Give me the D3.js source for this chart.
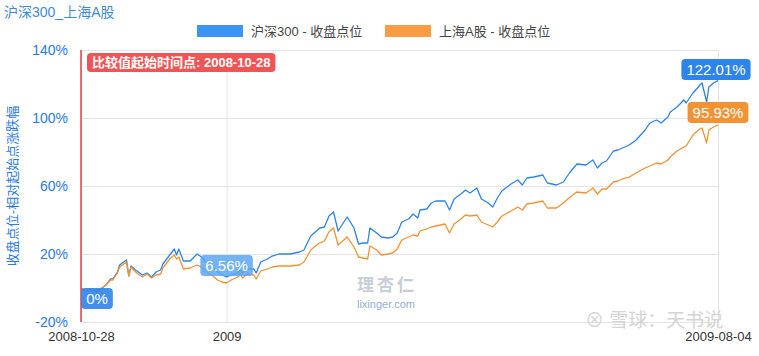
<!DOCTYPE html>
<html><head><meta charset="utf-8">
<script src="https://cdn.jsdelivr.net/npm/d3@7/dist/d3.min.js"></script>
<style>
body{margin:0;background:#fff;}
text{font-family:"Liberation Sans","Noto Sans CJK SC",sans-serif;}
</style></head>
<body><svg id="c" width="759" height="356"></svg>
<script>
const title = "沪深300_上海A股";
const seriesNames = ["沪深300 - 收盘点位", "上海A股 - 收盘点位"];
const yTicks = [-20, 20, 60, 100, 140];
const xTickDates = ["2008-10-28", "2008-12-31", "2009-08-04"];
const xTickLabels = ["2008-10-28", "2009", "2009-08-04"];
const startLabel = "比较值起始时间点: 2008-10-28";
const yTitle = "收盘点位-相对起始点涨跌幅";

const dates = [
"2008-10-28","2008-10-30","2008-11-01","2008-11-03","2008-11-05","2008-11-08","2008-11-10","2008-11-11","2008-11-13","2008-11-14",
"2008-11-17","2008-11-18","2008-11-19","2008-11-21","2008-11-24","2008-11-26","2008-11-28","2008-11-30","2008-12-02","2008-12-03",
"2008-12-06","2008-12-08","2008-12-09","2008-12-10","2008-12-12","2008-12-15","2008-12-18","2008-12-20","2008-12-22","2008-12-25",
"2008-12-27","2008-12-29","2008-12-31","2009-01-02","2009-01-05","2009-01-06","2009-01-07","2009-01-09","2009-01-12","2009-01-13",
"2009-01-15","2009-01-18","2009-01-20","2009-01-23","2009-01-28","2009-02-01","2009-02-03","2009-02-06","2009-02-08","2009-02-10",
"2009-02-12","2009-02-14","2009-02-16","2009-02-18","2009-02-20","2009-02-22","2009-02-25","2009-02-27","2009-03-01","2009-03-03",
"2009-03-04","2009-03-07","2009-03-09","2009-03-12","2009-03-14","2009-03-16","2009-03-18","2009-03-21","2009-03-23","2009-03-25",
"2009-03-26","2009-03-29","2009-03-31","2009-04-02","2009-04-06","2009-04-08","2009-04-10","2009-04-13","2009-04-15","2009-04-17",
"2009-04-20","2009-04-22","2009-04-25","2009-04-27","2009-04-29","2009-05-01","2009-05-05","2009-05-08","2009-05-10","2009-05-12",
"2009-05-15","2009-05-19","2009-05-21","2009-05-25","2009-05-28","2009-05-31","2009-06-03","2009-06-07","2009-06-10","2009-06-12",
"2009-06-14","2009-06-16","2009-06-19","2009-06-21","2009-06-23","2009-06-26","2009-06-29","2009-07-03","2009-07-05","2009-07-08",
"2009-07-10","2009-07-13","2009-07-14","2009-07-17","2009-07-20","2009-07-21","2009-07-24","2009-07-26","2009-07-27","2009-07-28",
"2009-07-30","2009-07-31","2009-08-02","2009-08-04"];

const hs300 = [
0,-1.76,-0.59,-1.76,-1.18,1.76,5.29,5.29,9.41,13.53,
16.47,7.06,12.94,10.59,7.65,8.82,6.47,9.41,10.59,14.12,
19.41,22.94,19.41,22.94,15.88,15.88,20.0,18.24,15.29,12.35,
9.41,7.65,6.56,7.65,8.82,10.59,8.82,11.18,11.18,8.82,
15.29,17.06,18.82,20.0,20.0,21.18,22.35,30.59,32.94,35.29,
35.88,42.35,44.71,33.53,37.65,41.76,35.29,25.88,26.47,26.47,
35.29,32.35,30.0,29.41,30.0,32.35,38.82,40.59,43.53,41.18,
45.88,46.47,50.0,51.18,51.18,45.88,52.35,55.29,57.65,55.88,
58.82,52.35,50.0,47.65,52.94,57.06,61.18,63.53,60.59,64.71,
65.29,66.47,61.76,60.59,62.35,68.24,72.94,72.35,75.29,70.59,
73.53,74.71,80.59,81.18,82.35,84.12,87.06,92.94,97.06,98.82,
97.06,100.59,103.53,106.47,110.59,108.82,114.71,117.65,119.41,120.59,
109.41,118.24,120.59,122.01];

const shA = [
0,-1.76,-0.59,-1.76,-1.18,1.76,4.71,4.71,8.82,12.35,
15.29,7.06,12.35,9.41,6.47,8.24,5.88,7.65,8.24,11.76,
17.06,19.41,17.06,18.24,11.18,11.76,13.53,12.35,9.41,7.06,
4.71,3.53,2.94,4.71,6.47,8.24,5.88,8.24,7.65,5.29,
10.0,11.18,12.35,12.94,12.94,13.53,15.29,22.35,24.71,26.47,
27.65,32.94,35.29,25.29,27.65,30.0,24.12,18.24,17.65,17.06,
24.71,22.35,19.41,20.0,20.59,22.94,28.24,30.0,31.18,30.59,
33.53,34.71,35.88,36.47,37.65,32.35,37.65,40.59,42.94,42.35,
42.94,38.82,37.06,35.88,38.82,42.35,45.29,47.65,45.88,49.41,
50.0,51.18,47.06,47.06,50.0,53.53,56.47,55.88,58.82,55.29,
58.24,58.24,62.35,62.94,64.12,65.29,67.65,70.59,71.76,73.53,
72.94,75.29,77.06,80.59,82.94,83.53,90.0,92.35,93.53,94.12,
85.29,92.94,94.71,95.93];

const colors = ["#2d84ea", "#f39233"];
const legendColors = ["#3a93f5", "#fb9d45"];

const svg = d3.select("#c");
const W = 759, H = 356;
const m = {left: 81, right: 41, top: 50, bottom: 34};
const parse = d3.timeParse("%Y-%m-%d");
const x = d3.scaleTime()
  .domain([parse(dates[0]), parse(dates[dates.length - 1])])
  .range([m.left, W - m.right]);
const y = d3.scaleLinear().domain([-20, 140]).range([H - m.bottom, m.top]);

// title
svg.append("text").attr("x", 4).attr("y", 17).attr("font-size", 14)
  .attr("fill", "#3f8ad8").text(title);

// legend
const legX = [197, 385];
seriesNames.forEach((n, i) => {
  svg.append("rect").attr("x", legX[i]).attr("y", 25).attr("width", 46).attr("height", 12)
    .attr("fill", legendColors[i]);
  svg.append("text").attr("x", legX[i] + 54).attr("y", 35.5).attr("font-size", 13)
    .attr("fill", "#444").text(n);
});

// grid
const yAxis = d3.axisLeft(y).tickValues(yTicks).tickSize(-(W - m.left - m.right))
  .tickFormat(d => d + "%").tickPadding(13);
const gy = svg.append("g").attr("transform", `translate(${m.left},0)`).call(yAxis);
gy.select(".domain").remove();
gy.selectAll("line").attr("stroke", "#e4e4e4");
gy.selectAll("text").attr("font-size", 14).attr("fill", "#2a7ae2");

const xAxis = d3.axisBottom(x).tickValues(xTickDates.map(parse))
  .tickFormat((d, i) => xTickLabels[i]).tickSize(-(H - m.top - m.bottom)).tickPadding(10);
const gx = svg.append("g").attr("transform", `translate(0,${H - m.bottom})`).call(xAxis);
gx.select(".domain").remove();
gx.selectAll("line").attr("stroke", "#e4e4e4");
gx.selectAll("text").attr("font-size", 13).attr("fill", "#333");

// y title
svg.append("text").attr("transform", `translate(17,${(m.top + H - m.bottom) / 2}) rotate(-90)`)
  .attr("text-anchor", "middle").attr("font-size", 13).attr("fill", "#2a7ae2").text(yTitle);

// watermarks
svg.append("text").attr("x", 387).attr("y", 291).attr("text-anchor", "middle")
  .attr("font-size", 17).attr("font-weight", "bold").attr("fill", "#c9ced6")
  .attr("letter-spacing", 3).text("理杏仁");
svg.append("text").attr("x", 386).attr("y", 308).attr("text-anchor", "middle")
  .attr("font-size", 11).attr("fill", "#8fb0d8").text("lixinger.com");
svg.append("text").attr("x", 585).attr("y", 327).attr("font-size", 19)
  .attr("fill", "#d4d4d4").text("⊗ 雪球：天书说");

// lines
const data = [hs300, shA];
const line = d3.line().x((d, i) => x(parse(dates[i]))).y(d => y(d));
data.forEach((s, i) => {
  svg.append("path").datum(s).attr("d", line).attr("fill", "none")
    .attr("stroke", colors[i]).attr("stroke-width", 1.3).attr("stroke-linejoin", "round");
});

// start red line
svg.append("line").attr("x1", x(parse(dates[0]))).attr("x2", x(parse(dates[0])))
  .attr("y1", m.top).attr("y2", H - m.bottom).attr("stroke", "#ee3b3b").attr("stroke-width", 1.5);

function label(txt, cx, top, fill, opacity, fs, bold, anchor) {
  const t = svg.append("text").attr("font-size", fs).attr("fill", "#fff")
    .attr("font-weight", bold ? "bold" : "normal").text(txt);
  const w = t.node().getComputedTextLength();
  const padX = 5, h = fs + 6;
  const left = anchor === "start" ? cx : cx - w / 2 - padX;
  svg.insert("rect", () => t.node()).attr("x", left).attr("y", top)
    .attr("width", w + 2 * padX).attr("height", h).attr("rx", 4)
    .attr("fill", fill).attr("opacity", opacity);
  t.attr("x", left + padX).attr("y", top + h / 2 + fs * 0.36);
}

label(startLabel, 87, 53, "#f05454", 1, 13, true, "start");
const iEnd = dates.length - 1;
label(hs300[iEnd].toFixed(2) + "%", 716, 59, colors[0], 1, 15, false);
label(shA[iEnd].toFixed(2) + "%", 718, 102, colors[1], 1, 15, false);
const i09 = dates.indexOf("2008-12-31");
label(hs300[i09].toFixed(2) + "%", x(parse(dates[i09])), 255, "#5ca6f2", 0.85, 15, false);
label(hs300[0] + "%", 97, 288, "#2d84ea", 0.9, 15, false);
</script></body></html>
